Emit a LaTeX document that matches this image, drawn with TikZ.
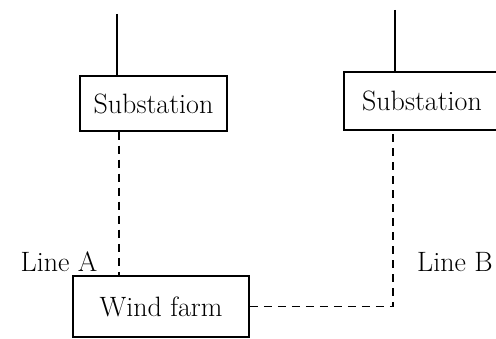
\documentclass[tikz,border=0pt]{standalone}
\usepackage{fontspec}
\usepackage{tikz}
\usetikzlibrary{positioning}

\tikzset{
  station/.style={draw, line width=1.5pt, inner sep=0pt, font=\fontsize{28}{32}\selectfont},
  feeder/.style={line width=1.5pt},
  link/.style={line width=1.5pt, dash pattern=on 8pt off 6pt},
  tag/.style={font=\fontsize{28}{32}\selectfont}
}

\begin{document}
\begin{tikzpicture}[x=1pt, y=1pt]
        \useasboundingbox (0, 0) rectangle (496, 338);

        \node[station, minimum width=147pt, minimum height=55pt] (sub1) at (153.5, 234.5) {Substation};
        \node[station, minimum width=156pt, minimum height=58pt] (sub2) at (422, 237) {Substation};
        \node[station, minimum width=176pt, minimum height=61pt] (wind) at (161, 31.5) {Wind farm};

        \node[tag] (lineA) at (59, 76) {Line A};
        \node[tag] (lineB) at (455, 76) {Line B};

        \coordinate (grid1) at (117, 324);
        \coordinate (grid2) at (395, 328);

        \draw[feeder] (grid1) -- (grid1 |- sub1.north);
        \draw[feeder] (grid2) -- (grid2 |- sub2.north);
        \draw[link] ([xshift=-34.5pt]sub1.south) -- ([xshift=-42pt]wind.north);
        \draw[link] (wind.east) -| ([xshift=-29pt]sub2.south);
    \end{tikzpicture}
\end{document}
